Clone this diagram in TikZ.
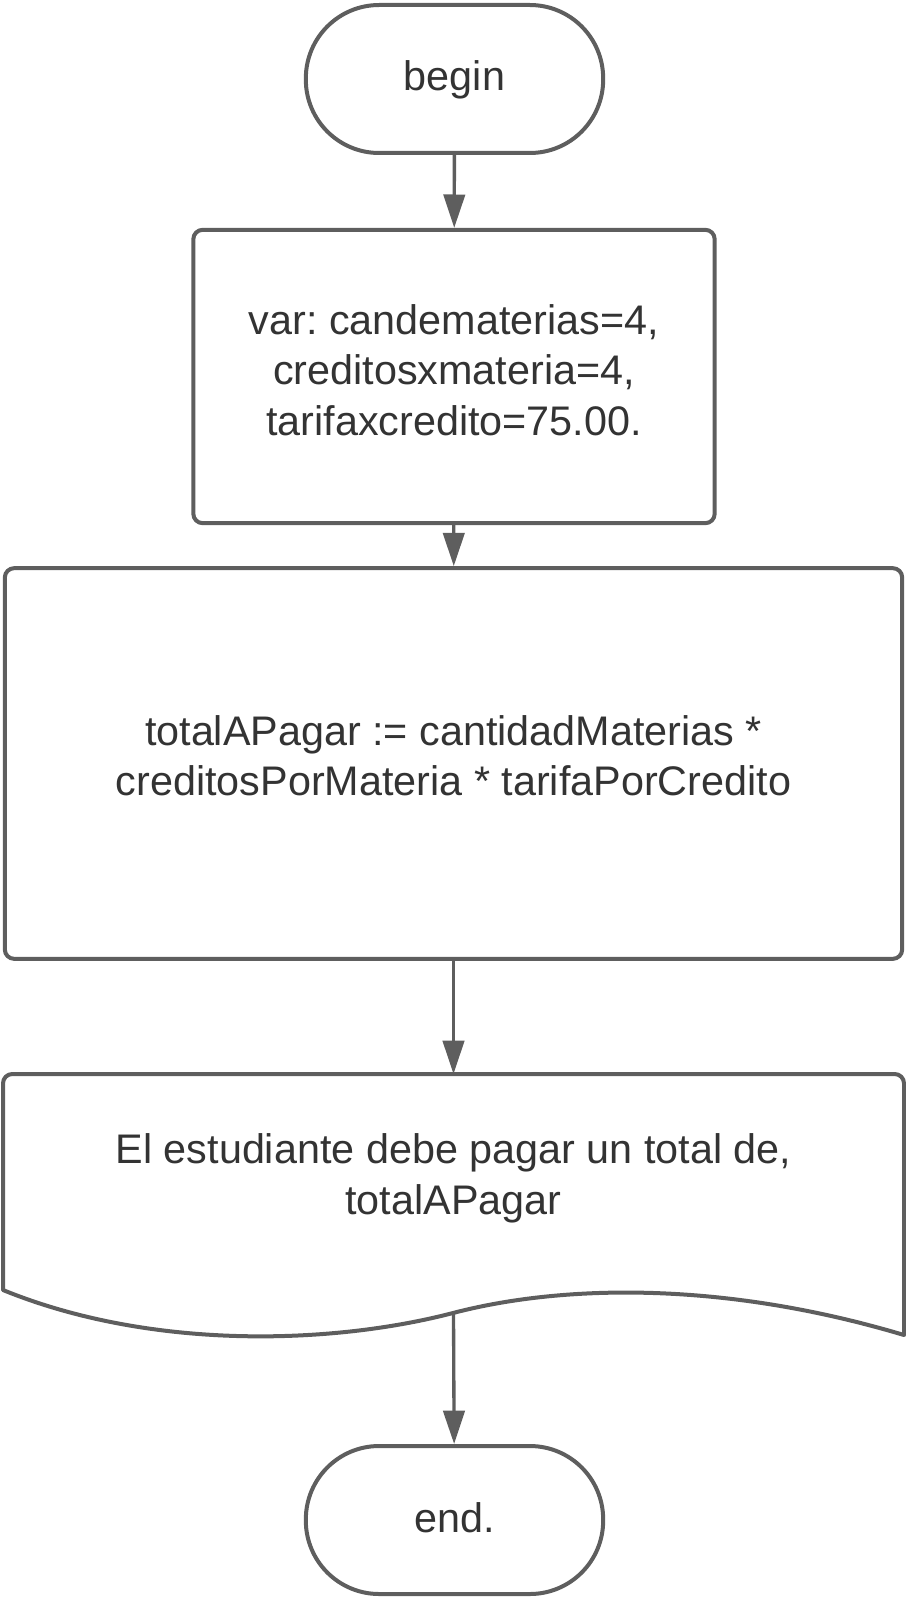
\documentclass[tikz,border=0pt]{standalone}
\usepackage{fontspec}
\setmainfont{Liberation Sans}
\frenchspacing
\usetikzlibrary{arrows.meta}
\definecolor{linea}{HTML}{5E5E5E}
\definecolor{texto}{HTML}{333333}
\tikzset{
  terminal/.style={draw=linea, line width=3pt, rounded corners=55pt, minimum width=223pt, minimum height=111pt, text=texto, font=\fontsize{31}{38}\selectfont},
  proceso/.style={draw=linea, line width=3pt, rounded corners=7pt, align=center, text=texto, font=\fontsize{31}{38}\selectfont},
  flecha/.style={draw=linea, line width=2.5pt, -{Triangle[length=25pt,width=16pt]}},
}

\begin{document}
\begin{tikzpicture}[x=0.75pt,y=-0.75pt]
    \useasboundingbox (0,0) rectangle (906,1598);
    \node[terminal, text depth=5pt] (inicio) at (454.5,79) {begin};
    \node[proceso, minimum width=391pt, minimum height=220pt, text depth=10pt] (vars) at (454,376.5) {var: candematerias=4,\\creditosxmateria=4,\\tarifaxcredito=75.00.};
    \node[proceso, minimum width=673pt, minimum height=293pt, text depth=12pt] (calculo) at (453.5,763.5) {totalAPagar := cantidadMaterias *\\creditosPorMateria * tarifaPorCredito};
    % documento de salida
    \draw[draw=linea, line width=3pt, line join=round] (3,1290) [rounded corners=7pt] -- (3,1074) -- (904,1074) [sharp corners] -- (904,1335)
        .. controls (720,1280) and (560,1285) .. (453,1313) .. controls (330,1345) and (150,1350) .. (3,1290) -- cycle;
    \node[proceso, draw=none, minimum width=673pt] (salida) at (453.5,1178) {El estudiante debe pagar un total de,\\totalAPagar};
    \coordinate (salidatop) at (453.5,1074);
    \coordinate (onda) at (453.5,1313);
    \node[terminal, text depth=4pt] (fin) at (454.5,1520) {end.};
    \draw[flecha] (inicio) -- (vars);
    \draw[flecha] (vars) -- (calculo);
    \draw[flecha] (calculo) -- (salidatop);
    \draw[flecha] (onda) -- (fin);
\end{tikzpicture}
\end{document}
